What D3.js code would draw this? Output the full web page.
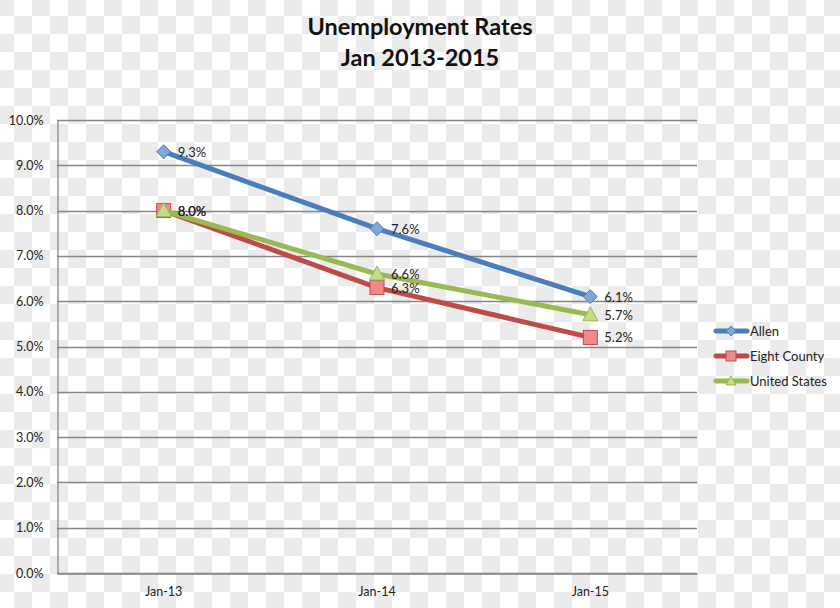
<!DOCTYPE html>
<html><head><meta charset="utf-8">
<script src="https://cdn.jsdelivr.net/npm/d3@7"></script>
<style>body{margin:0;background:#fff}svg{display:block}text{font-family:Lato,"Open Sans",sans-serif}</style>
</head><body>
<svg id="c" width="840" height="608"></svg>
<script>
const categories = ["Jan-13", "Jan-14", "Jan-15"];
const allen = [9.3, 7.6, 6.1];
const eightCounty = [8.0, 6.3, 5.2];
const unitedStates = [8.0, 6.6, 5.7];
const seriesNames = ["Allen", "Eight County", "United States"];
const yTicks = [0,1,2,3,4,5,6,7,8,9,10];

const series = [
  {name: seriesNames[0], values: allen, color: "#4a7ebb", fill: "#7ea6da", marker: "diamond"},
  {name: seriesNames[1], values: eightCounty, color: "#be4b48", fill: "#f08a87", marker: "square"},
  {name: seriesNames[2], values: unitedStates, color: "#98b954", fill: "#c3dc8a", marker: "triangle"}
];

const svg = d3.select("#c");
// checkerboard background
const defs = svg.append("defs");
const pat = defs.append("pattern").attr("id","chk").attr("width",36).attr("height",36).attr("patternUnits","userSpaceOnUse").attr("x",-4).attr("y",-2);
pat.append("rect").attr("width",36).attr("height",36).attr("fill","#ffffff");
pat.append("rect").attr("width",18).attr("height",18).attr("fill","#ebebeb");
pat.append("rect").attr("x",18).attr("y",18).attr("width",18).attr("height",18).attr("fill","#ebebeb");
svg.append("rect").attr("width",840).attr("height",608).attr("fill","url(#chk)");

const pLeft = 57, pRight = 697, pTop = 120, pBottom = 573;
const x = d3.scaleBand().domain(categories).range([pLeft, pRight]);
const y = d3.scaleLinear().domain([0, 10]).range([pBottom, pTop]);

// title
svg.append("text").attr("x",420).attr("y",35).attr("text-anchor","middle").attr("font-size",23.5).attr("font-weight","bold").attr("fill","#111").text("Unemployment Rates");
svg.append("text").attr("x",420).attr("y",66).attr("text-anchor","middle").attr("font-size",23.5).attr("font-weight","bold").attr("fill","#111").text("Jan 2013-2015");

// gridlines
svg.append("g").selectAll("line").data(yTicks).join("line")
  .attr("x1", pLeft).attr("x2", pRight)
  .attr("y1", d => Math.round(y(d))+0.5).attr("y2", d => Math.round(y(d))+0.5)
  .attr("stroke", "#868686").attr("stroke-width", 1.3);

// y axis
const yAxis = d3.axisLeft(y).tickValues(yTicks).tickFormat(d => d.toFixed(1) + "%").tickSize(0).tickPadding(14);
const ya = svg.append("g").attr("transform", `translate(${pLeft+0.5},0)`).call(yAxis);
ya.select(".domain").attr("stroke", "#868686").attr("stroke-width", 1.3);
ya.selectAll("text").attr("font-size", 12.5).attr("fill", "#222").attr("font-family","Lato,sans-serif");

// x axis
const xAxis = d3.axisBottom(x).tickSize(0).tickPadding(14);
const xa = svg.append("g").attr("transform", `translate(0,${pBottom+0.5})`).call(xAxis);
xa.select(".domain").attr("stroke", "#868686").attr("stroke-width", 1.3);
xa.selectAll("text").attr("font-size", 12.5).attr("fill", "#222").attr("font-family","Lato,sans-serif");

const cx = c => x(c) + x.bandwidth()/2;
const line = d3.line().x((d,i) => cx(categories[i])).y(d => y(d));

function drawMarker(g, type, px, py, s) {
  if (type === "diamond") {
    g.append("path").attr("d", `M${px},${py-7}L${px+7},${py}L${px},${py+7}L${px-7},${py}Z`).attr("fill", s.fill).attr("stroke", s.color).attr("stroke-width", 1);
  } else if (type === "square") {
    g.append("rect").attr("x", px-7).attr("y", py-7).attr("width", 14).attr("height", 14).attr("fill", s.fill).attr("stroke", s.color).attr("stroke-width", 1);
  } else {
    g.append("path").attr("d", `M${px},${py-8}L${px+7.5},${py+6}L${px-7.5},${py+6}Z`).attr("fill", s.fill).attr("stroke", s.color).attr("stroke-width", 1);
  }
}

series.forEach(s => {
  const g = svg.append("g");
  g.append("path").datum(s.values).attr("d", line).attr("fill","none").attr("stroke", s.color).attr("stroke-width", 5).attr("stroke-linejoin","round");
  s.values.forEach((v,i) => drawMarker(g, s.marker, cx(categories[i]), y(v), s));
});
series.forEach(s => {
  s.values.forEach((v,i) => {
    svg.append("text").attr("x", cx(categories[i]) + 14).attr("y", y(v) + 5)
      .attr("font-size", 13).attr("fill", "#222").text(v.toFixed(1) + "%");
  });
});

// legend
const legY = [331, 356, 381];
series.forEach((s,i) => {
  const g = svg.append("g");
  g.append("line").attr("x1", 716).attr("x2", 747).attr("y1", legY[i]).attr("y2", legY[i]).attr("stroke", s.color).attr("stroke-width", 5).attr("stroke-linecap","round");
  if (s.marker === "diamond") g.append("path").attr("d", `M731,${legY[i]-5}L736,${legY[i]}L731,${legY[i]+5}L726,${legY[i]}Z`).attr("fill", s.fill).attr("stroke", s.color);
  else if (s.marker === "square") g.append("rect").attr("x",726).attr("y",legY[i]-5).attr("width",10).attr("height",10).attr("fill",s.fill).attr("stroke",s.color);
  else g.append("path").attr("d", `M731,${legY[i]-5}L736,${legY[i]+4}L726,${legY[i]+4}Z`).attr("fill", s.fill).attr("stroke", s.color);
  g.append("text").attr("x", 750).attr("y", legY[i]+4.5).attr("font-size", 13).attr("fill", "#222").text(s.name);
});
</script>
</body></html>
